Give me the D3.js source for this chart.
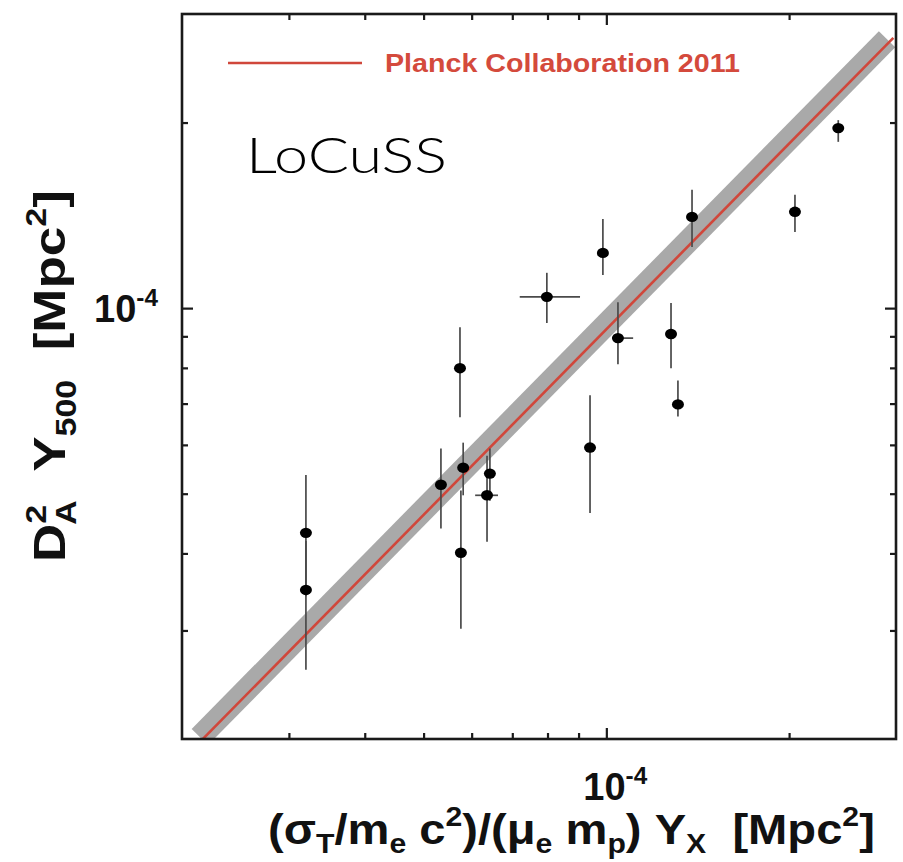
<!DOCTYPE html>
<html><head><meta charset="utf-8">
<script src="https://cdn.jsdelivr.net/npm/d3@7"></script>
<style>body{margin:0;background:#fff}svg text{white-space:pre}</style>
</head><body>
<svg id="c" width="903" height="862"></svg>
<script>
// ---- data (Mpc^2) ----
const yxValues  = [3.20e-5, 3.20e-5, 5.34e-5, 5.74e-5, 5.81e-5, 5.76e-5, 6.43e-5, 6.36e-5, 7.98e-5, 9.40e-5, 9.87e-5, 1.045e-4, 1.278e-4, 1.312e-4, 1.384e-4, 2.045e-4, 2.41e-4];
const yszValues = [4.32e-5, 3.49e-5, 5.17e-5, 7.99e-5, 5.51e-5, 4.01e-5, 5.39e-5, 4.97e-5, 1.043e-4, 5.94e-5, 1.229e-4, 8.94e-5, 9.08e-5, 6.98e-5, 1.406e-4, 1.433e-4, 1.959e-4];
const yszLow    = [3.41e-5, 2.59e-5, 4.39e-5, 6.65e-5, 4.97e-5, 3.02e-5, 4.87e-5, 4.18e-5, 9.46e-5, 4.65e-5, 1.132e-4, 8.11e-5, 7.99e-5, 6.67e-5, 1.257e-4, 1.329e-4, 1.861e-4];
const yszHigh   = [5.36e-5, 4.19e-5, 5.92e-5, 9.31e-5, 6.05e-5, 5.06e-5, 5.92e-5, 5.76e-5, 1.141e-4, 7.22e-5, 1.395e-4, 1.022e-4, 1.019e-4, 7.63e-5, 1.556e-4, 1.527e-4, 2.018e-4];
const yxLow     = [null, null, null, null, null, null, null, 6.08e-5, 7.20e-5, null, null, 1.022e-4, null, null, null, null, null];
const yxHigh    = [null, null, null, null, null, null, null, 6.63e-5, 9.05e-5, null, null, 1.107e-4, null, null, null, null, null];

const axisDomain = [2e-5, 3e-4];
const majorTicks = [1e-4];
const minorTicks = [3e-5, 4e-5, 5e-5, 6e-5, 7e-5, 8e-5, 9e-5, 2e-4];
const relationNorm = 0.924;           // Planck Collaboration 2011: Y = 0.924 Yx
const relationRange = [2.0e-5, 2.97e-4];
const bandNorm = 0.9415;
const bandRange = [2.14e-5, 2.9e-4];
const legendLabel = "Planck Collaboration 2011";
const sampleLabel = "LoCuSS";

// ---- layout ----
const L = 182, R = 896, T = 14, B = 739;
const svg = d3.select("#c");
const x = d3.scaleLog().domain(axisDomain).range([L, R]);
const y = d3.scaleLog().domain(axisDomain).range([B, T]);

svg.append("defs").append("clipPath").attr("id", "clip")
  .append("rect").attr("x", L).attr("y", T).attr("width", R - L).attr("height", B - T);

const plot = svg.append("g").attr("clip-path", "url(#clip)");

// gray band
const line = d3.line().x(d => x(d[0])).y(d => y(d[1]));
plot.append("path")
  .attr("d", line(bandRange.map(v => [v, v * bandNorm])))
  .attr("stroke", "#a9a9a9").attr("stroke-width", 23).attr("fill", "none")
  .attr("stroke-linecap", "butt");
// red relation
plot.append("path")
  .attr("d", line(relationRange.map(v => [v, v * relationNorm])))
  .attr("stroke", "#d0473b").attr("stroke-width", 2.6).attr("fill", "none");

// error bars
const pts = yxValues.map((v, i) => ({x: v, y: yszValues[i], yl: yszLow[i], yh: yszHigh[i], xl: yxLow[i], xh: yxHigh[i]}));
const eg = svg.append("g").attr("stroke", "#4a4a4a").attr("stroke-width", 1.7);
eg.selectAll("line.ey").data(pts).join("line").attr("class", "ey")
  .attr("x1", d => x(d.x)).attr("x2", d => x(d.x))
  .attr("y1", d => y(d.yl)).attr("y2", d => y(d.yh));
eg.selectAll("line.ex").data(pts.filter(d => d.xl !== null)).join("line").attr("class", "ex")
  .attr("x1", d => x(d.xl)).attr("x2", d => x(d.xh))
  .attr("y1", d => y(d.y)).attr("y2", d => y(d.y));
svg.append("g").selectAll("ellipse").data(pts).join("ellipse")
  .attr("cx", d => x(d.x)).attr("cy", d => y(d.y))
  .attr("rx", 6).attr("ry", 5.2).attr("fill", "#000");

// frame
svg.append("rect").attr("x", L).attr("y", T).attr("width", R - L).attr("height", B - T)
  .attr("fill", "none").attr("stroke", "#1a1a1a").attr("stroke-width", 2.6);

// ticks (inward, mirrored)
function ticks(axisFn, scale, vals, size, tr) {
  const g = svg.append("g").attr("transform", tr)
    .call(axisFn(scale).tickValues(vals).tickSize(-size).tickFormat(""));
  g.select(".domain").remove();
  g.selectAll(".tick line").attr("stroke", "#1a1a1a").attr("stroke-width", 2.2);
}
ticks(d3.axisBottom, x, majorTicks, 11, `translate(0,${B})`);
ticks(d3.axisBottom, x, minorTicks, 6, `translate(0,${B})`);
ticks(d3.axisTop, x, majorTicks, 11, `translate(0,${T})`);
ticks(d3.axisTop, x, minorTicks, 6, `translate(0,${T})`);
ticks(d3.axisLeft, y, majorTicks, 11, `translate(${L},0)`);
ticks(d3.axisLeft, y, minorTicks, 6, `translate(${L},0)`);
ticks(d3.axisRight, y, majorTicks, 11, `translate(${R},0)`);
ticks(d3.axisRight, y, minorTicks, 6, `translate(${R},0)`);

const FONT = "'Liberation Sans', Arial, Helvetica, sans-serif";

// rich text helper: segments [text, kind, dx] kind: n, sub, sup
function rich(parent, segs, size, subOff) {
  const t = parent.append("text").attr("font-family", FONT).attr("font-weight", "bold")
    .attr("font-size", size).attr("fill", "#111");
  let cur = 0;
  segs.forEach(s => {
    const off = s[1] === "sub" ? (subOff || 0.24) * size : s[1] === "sup" ? -0.42 * size : 0;
    const sp = t.append("tspan").text(s[0]).attr("dy", off - cur);
    if (s[1] !== "n") sp.attr("font-size", size * 0.64);
    if (s[2] !== undefined) sp.attr("dx", s[2]);
    cur = off;
  });
  return t;
}
function fitWidth(g, t, w) {
  const bb = t.node().getBBox();
  t.attr("transform", `scale(${w / bb.width},1)`);
}

// tick labels
majorTicks.forEach(v => {
  rich(svg, [["10", "n"], ["-4", "sup"]], 38).attr("x", x(v) - 23).attr("y", 800);
  rich(svg, [["10", "n"], ["-4", "sup"]], 38).attr("x", 94).attr("y", y(v) + 14);
});

// axis titles
const xlg = svg.append("g").attr("transform", "translate(268,844)");
const xlt = rich(xlg, [["(σ", "n"], ["T", "sub"], ["/m", "n"], ["e", "sub"], [" c", "n"], ["2", "sup"], [")/(μ", "n"], ["e", "sub"], [" m", "n"], ["p", "sub"], [") Y", "n"], ["X", "sub"], ["  [Mpc", "n"], ["2", "sup"], ["]", "n"]], 43, 0.2);
fitWidth(xlg, xlt, 607);

const ylg = svg.append("g").attr("transform", "translate(65,562) rotate(-90)");
const ylt = rich(ylg, [["D", "n"], ["2", "sup"], ["A", "sub", -17], ["  Y", "n"], ["500", "sub"], ["  [Mpc", "n"], ["2", "sup"], ["]", "n"]], 45);
fitWidth(ylg, ylt, 372);

// legend
svg.append("line").attr("x1", 228).attr("x2", 362).attr("y1", 63).attr("y2", 63)
  .attr("stroke", "#d0473b").attr("stroke-width", 2.6);
svg.append("text").attr("x", 385).attr("y", 72).text(legendLabel)
  .attr("font-family", FONT).attr("font-weight", "bold").attr("font-size", 26)
  .attr("fill", "#d44a3c").attr("textLength", 355).attr("lengthAdjust", "spacingAndGlyphs");

svg.append("text").attr("x", 246).attr("y", 173).text(sampleLabel)
  .attr("font-family", "Lato, 'Open Sans', sans-serif").attr("font-weight", 300).attr("font-size", 50)
  .attr("fill", "#000").attr("textLength", 201).attr("lengthAdjust", "spacingAndGlyphs");
</script>
</body></html>
